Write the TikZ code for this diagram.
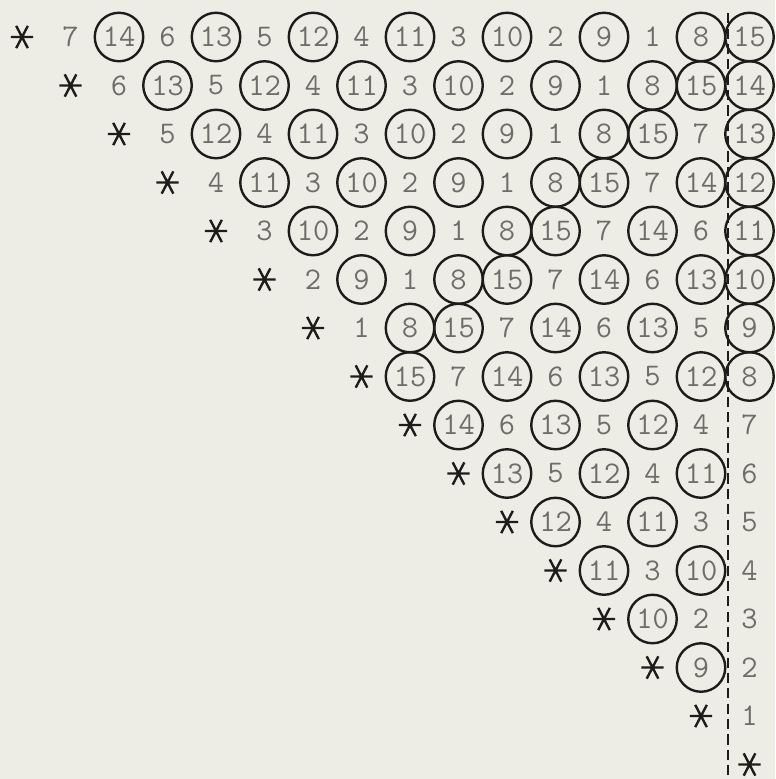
\documentclass[tikz,border=0pt]{standalone}
\usepackage{tikz}

\definecolor{paper}{RGB}{238,237,229}
\definecolor{ink}{RGB}{28,28,26}
\definecolor{typed}{RGB}{110,110,104}

\tikzset{
  entry/.style={inner sep=0pt, minimum size=1cm, text=typed,
    font=\fontsize{18.5}{18.5}\selectfont\ttfamily},
  ringed/.style={entry, circle, draw=ink, line width=1.4pt},
  starmark/.style={inner sep=0pt, minimum size=0.52cm,
    path picture={\draw[ink,line width=1.4pt]
      (path picture bounding box.center) +(-0.23,0) -- +(0.23,0)
      (path picture bounding box.center) +(-0.12,-0.23) -- +(0.12,0.23)
      (path picture bounding box.center) +(-0.12,0.23) -- +(0.12,-0.23);}},
}

\begin{document}
\begin{tikzpicture}
  \fill[paper] (-0.454,0.763) rectangle (15.526,-15.299);

  % rows: a star on the diagonal, then 7(i+j) mod 15, last column 15-i
  \foreach \i in {0,...,15}{
    \node[starmark] (n-\i-\i) at (\i,-\i) {};
    \ifnum\i<15
      \pgfmathtruncatemacro\first{\i+1}
      \foreach \j in {\first,...,15}{
        \ifnum\j=15
          \pgfmathtruncatemacro\v{15-\i}
        \else
          \pgfmathtruncatemacro\v{mod(7*(\i+\j),15)}
          \ifnum\v=0 \def\v{15}\fi
        \fi
        \ifnum\v>7
          \node[ringed] (n-\i-\j) at (\j,-\i) {\v};
        \else
          \node[entry] (n-\i-\j) at (\j,-\i) {\v};
        \fi
      }
    \fi
  }

  \coordinate (fold top) at (14.56,0.49);
  \coordinate (fold bottom) at (14.56,-15.22);
  \draw[ink,line width=1.5pt,dash pattern=on 6pt off 3pt] (fold top) -- (fold bottom);
\end{tikzpicture}
\end{document}
